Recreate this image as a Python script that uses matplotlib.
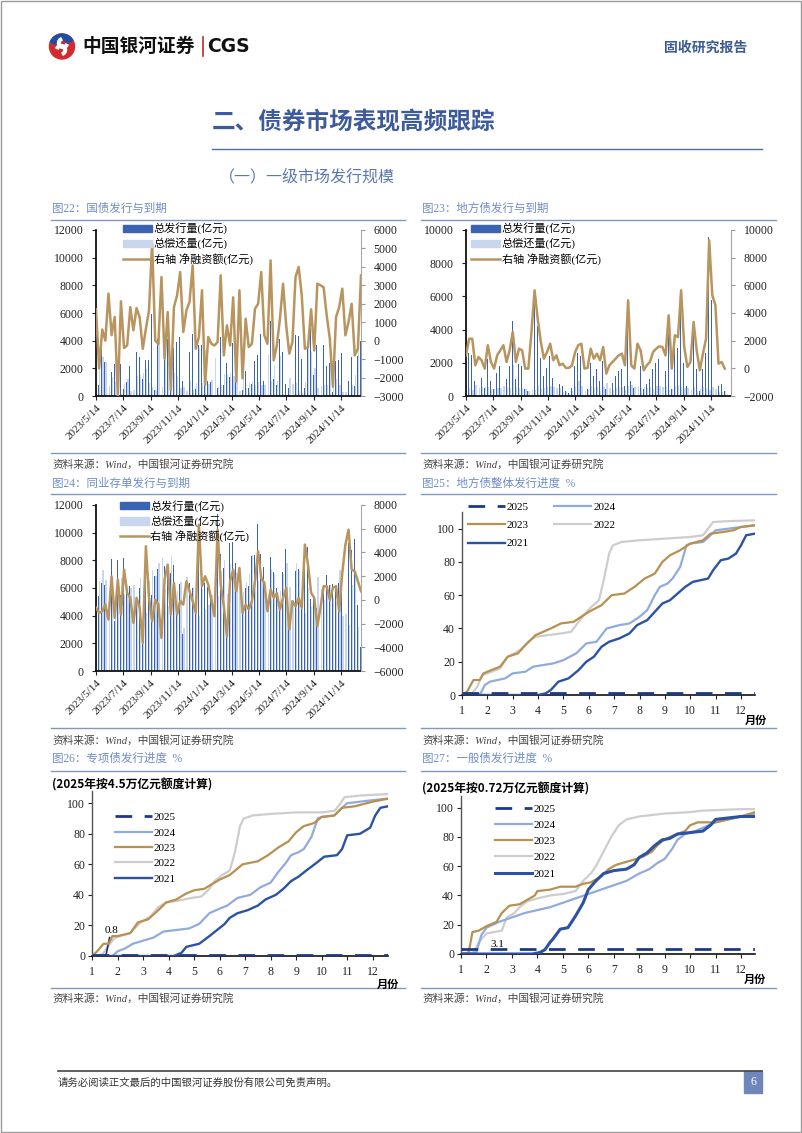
import numpy as np
import pandas as pd
import matplotlib
matplotlib.use('Agg')
import matplotlib.pyplot as plt
import matplotlib.dates as mdates
from matplotlib.patches import Rectangle, Patch, Wedge, Circle
from matplotlib.lines import Line2D
from matplotlib.ticker import FuncFormatter

plt.rcParams['font.family'] = ['Liberation Serif', 'Noto Sans CJK SC']
CJK = ['Noto Sans CJK SC', 'DejaVu Sans']

# ---------------- data ----------------
# weekly flows (亿元), first week 2023/5/14
week_start = '2023-05-14'
axis_end = '2024-12-29'

# 图22 国债
gz_issue = [2000, 800, 3400, 2450, 3300, 1700, 2300, 300, 2300, 500,
            1000, 2200, 1000, 3200, 2800, 1250, 2600, 2600, 5950, 400,
            4100, 4100, 2600, 4100, 500, 3500, 3900, 4300, 1100, 2000,
            3200, 4500, 500, 3700, 3700, 900, 1100, 1000, 2500, 600,
            4300, 800, 2400, 1400, 3800, 1000, 3100, 400, 1800, 600,
            900, 2500, 3000, 4500, 1100, 2900, 5400, 1200, 800, 4100,
            3200, 900, 600, 800, 4400, 4350, 2700, 600, 3700, 4900,
            1500, 3700, 3700, 3700, 2200, 2400, 300, 2500, 2600, 3100,
            600, 1100, 2800, 700, 2900, 4000]
gz_repay = [300, 2300, 2800, 2450, 750, 1400, 1020, 3300, 170, 900,
            1250, 380, 440, 1430, 1520, 1690, 1960, 960, 650, 400,
            4270, 650, 3580, 2550, 3200, 1680, 1450, 580, 630, 360,
            1100, 420, 940, 3500, 970, 3300, 900, 1170, 2760, 670,
            760, 1600, 1570, 1660, 1450, 3220, 370, 2440, 610, 950,
            1070, 770, 1000, 780, 810, 3070, 1050, 2270, 1060, 2910,
            110, 70, 1300, 870, 950, 350, 250, 1040, 4050, 3200,
            2030, 610, 700, 800, 830, 2300, 2800, 1220, 780, 280,
            310, 90, 800, 1500, 3340, 460]
gz_net = [1700, -1500, 600, 0, 2550, 300, 1280, -3000, 2130, -400,
          -250, 1820, 560, 1770, 1280, -440, 640, 1640, 5300, 0,
          -170, 3450, -980, 1550, -2700, 1820, 2450, 3720, 470, 1640,
          2100, 4080, -440, 200, 2730, -2400, 200, -170, -260, -70,
          3540, -800, 830, -260, 2350, -2220, 2730, -2040, 1190, -350,
          -170, 1730, 2000, 3720, 290, -170, 4350, -1070, -260, 1190,
          3090, 830, -700, -70, 3450, 4000, 2450, -440, -350, 1700,
          -530, 3090, 3000, 2900, 1370, 100, -2500, 1280, 1820, 2820,
          290, 1010, 2000, -800, -440, 3540]

# 图23 地方债
dfz_issue = [1500, 2600, 2500, 900, 1300, 1100, 500, 2200, 900, 400,
             1400, 1800, 2300, 1000, 1800, 4500, 1000, 1900, 1800, 400,
             300, 3000, 6000, 4200, 2300, 1200, 1700, 2400, 1100, 1400,
             700, 600, 300, 200, 500, 1800, 2600, 2400, 300, 400,
             2000, 1200, 1600, 900, 2100, 400, 700, 800, 1200, 1500,
             1600, 600, 5500, 900, 500, 2400, 1800, 400, 700, 1000,
             1600, 2000, 2200, 2100, 1500, 4200, 400, 3000, 2900, 6200,
             2000, 600, 900, 3900, 1600, 300, 1600, 2600, 9600, 5800,
             5000, 600, 700, 300]
dfz_repay = [560, 460, 360, 680, 480, 520, 520, 530, 440, 420,
             460, 500, 630, 540, 500, 1870, 540, 480, 500, 420,
             320, 370, 360, 610, 400, 500, 520, 620, 520, 460,
             480, 260, 270, 170, 280, 620, 930, 620, 320, 370,
             580, 500, 540, 320, 560, 780, 480, 340, 500, 560,
             540, 380, 580, 680, 520, 620, 500, 540, 480, 540,
             420, 580, 610, 560, 560, 370, 420, 610, 640, 560,
             460, 500, 440, 550, 300, 440, 540, 460, 350, 520,
             440, 260, 240, 320]
dfz_net = [940, 2140, 2140, 220, 820, 580, -20, 1670, 460, -20,
           940, 1300, 1670, 460, 1300, 2630, 460, 1420, 1300, -20,
           -20, 2630, 5640, 3590, 1900, 700, 1180, 1780, 580, 940,
           220, 340, 30, 30, 220, 1180, 1670, 1780, -20, 30,
           1420, 700, 1060, 580, 1540, -380, 220, 460, 700, 940,
           1060, 220, 4920, 220, -20, 1780, 1300, -140, 220, 460,
           1180, 1420, 1590, 1540, 940, 3830, -20, 2390, 2260, 5640,
           1540, 100, 460, 3350, 1300, -140, 1060, 2140, 9250, 5280,
           4560, 340, 460, -20]

# 图24 同业存单
cd_issue = [5630, 5400, 6340, 6200, 3640, 8090, 3580, 8010, 5460, 8150,
            5990, 6170, 4260, 5170, 6030, 2170, 8720, 6670, 5500, 6900,
            7400, 5000, 7610, 7670, 7060, 7630, 4560, 6300, 2700, 8370,
            6330, 6000, 5200, 10340, 7050, 6390, 6090, 5500, 5220, 11320,
            8490, 7460, 2530, 9270, 9350, 7830, 8890, 4600, 6000, 6180,
            8300, 8370, 10600, 8450, 7530, 4640, 8270, 7170, 5990, 4980,
            7170, 8810, 3600, 4900, 7260, 7370, 4630, 8860, 8970, 5190,
            5170, 4580, 5230, 6250, 6950, 6200, 6310, 6150, 6340, 6270,
            8760, 9220, 8750, 9510, 4770, 1730]
cd_repay = [6300, 6500, 7300, 6600, 5300, 6100, 5100, 6300, 6700, 5600,
            5400, 6000, 6200, 5000, 6700, 5800, 4200, 6500, 7300, 6900,
            7800, 8200, 5900, 4700, 8300, 6200, 5800, 6400, 3100, 6800,
            5600, 6100, 6300, 4000, 5900, 4400, 4800, 5500, 6600, 5400,
            7200, 8000, 5600, 7700, 6800, 7100, 6200, 5700, 6400, 7000,
            8400, 6800, 6500, 6600, 6100, 5600, 7400, 7000, 5400, 5800,
            7000, 7800, 6100, 5000, 7800, 7200, 5300, 4200, 6000, 4600,
            5000, 6800, 5900, 5100, 5800, 6200, 5300, 5000, 7300, 4000,
            4100, 3300, 6200, 7100, 3200, 1000]
cd_net = [-670, -1100, -960, -400, -1660, 1990, -1520, 1710, -1240, 2550,
          590, 170, -1940, 170, -670, -3630, 4520, 170, -1800, 0,
          -400, -3200, 1710, 2970, -1240, 1430, -1240, -100, -400, 1570,
          730, -100, -1100, 6340, 1150, 1990, 1290, 0, -1380, 5920,
          1290, -540, -3070, 1570, 2550, 730, 2690, -1100, -400, -820,
          -100, 1570, 4100, 1850, 1430, -960, 870, 170, 590, -820,
          170, 1010, -2500, -100, -540, 170, -670, 4660, 2970, 590,
          170, -2220, -670, 1150, 1150, 0, 1010, 1150, -960, 2270,
          4660, 5920, 2550, 2410, 1570, 730]

# 图25 地方债整体发行进度 (month, %)
t25_m = [1, 12.55]
t25_v = [1.0, 1.0]
t24_m = [1, 1.7, 1.9, 2.1, 2.7, 3.0, 3.5, 3.8, 4.2, 4.6, 5.0, 5.5, 5.9, 6.3, 6.7, 7.2,
         7.6, 8.0, 8.3, 8.6, 8.8, 9.1, 9.3, 9.6, 9.85, 10.0, 10.5, 10.8, 11.0, 11.5, 12.0, 12.55]
t24_v = [0, 0, 6, 8, 10, 13, 14, 17, 18, 19, 21, 25, 31, 32, 40, 42,
         43, 47, 51, 60, 65, 67, 70, 77, 90, 91, 92, 96, 99, 100, 101, 102]
t23_m = [1, 1.2, 1.45, 1.7, 1.85, 2.0, 2.5, 2.8, 3.2, 3.5, 3.9, 4.2, 4.5, 4.9, 5.4, 5.8, 6.0,
         6.5, 6.9, 7.4, 7.8, 8.2, 8.6, 8.9, 9.2, 9.6, 10.0, 10.5, 10.8, 11.3, 11.7, 12.0, 12.55]
t23_v = [0, 2, 9, 9, 13, 14, 17, 23, 25, 30, 36, 38, 40, 43, 44, 48, 50,
         54, 60, 61, 65, 70, 73, 80, 84, 87, 91, 93, 97, 98, 99, 101, 102]
t22_m = [1, 1.4, 1.6, 1.8, 2.0, 2.5, 2.8, 3.3, 3.6, 3.9, 4.4, 4.9, 5.3, 5.6, 5.8,
         6.1, 6.4, 6.6, 6.8, 6.95, 7.3, 8.0, 9.0, 10.0, 10.5, 10.7, 10.9, 11.5, 12.55]
t22_v = [0, 1, 5, 12, 13, 16, 23, 27, 32, 35, 36, 37, 38, 44, 48,
         53, 57, 70, 85, 90, 92, 93, 94, 95, 96, 100, 104, 104.5, 105]
t21_m = [1, 4.0, 4.3, 4.5, 4.8, 5.2, 5.6, 5.9, 6.2, 6.5, 6.8, 7.2, 7.6, 7.9, 8.3,
         8.6, 8.9, 9.2, 9.5, 9.8, 10.1, 10.4, 10.7, 10.9, 11.2, 11.5, 11.8, 12.0, 12.2, 12.55]
t21_v = [0, 0, 1, 3, 8, 10, 15, 20, 23, 29, 32, 34, 37, 42, 45,
         50, 55, 57, 61, 65, 68, 69, 70, 75, 81, 82, 85, 90, 96, 97]

# 图26 专项债发行进度
s25_m = [1, 12.6]
s25_v = [0.8, 0.8]
s24_m = [1, 1.8, 2.0, 2.3, 2.6, 3.0, 3.4, 3.8, 4.3, 4.8, 5.2, 5.6, 6.0, 6.3, 6.7, 7.2,
         7.6, 8.0, 8.3, 8.6, 8.8, 9.1, 9.3, 9.6, 9.85, 10.0, 10.5, 10.8, 11.0, 11.5, 12.0, 12.6]
s24_v = [0, 0, 3, 5, 8, 10, 12, 16, 17, 18, 21, 28, 31, 33, 38, 40,
         45, 48, 55, 61, 66, 68, 70, 78, 90, 91, 92, 97, 100, 101, 102, 103]
s23_m = [1.0, 1.2, 1.45, 1.65, 1.8, 2.0, 2.5, 2.8, 3.2, 3.6, 3.9, 4.3, 4.7, 5.0, 5.4, 5.8,
         6.0, 6.4, 6.9, 7.5, 7.9, 8.3, 8.7, 9.0, 9.3, 9.7, 10.0, 10.5, 10.8, 11.3, 12.0, 12.6]
s23_v = [0, 3, 8, 8, 13, 13, 15, 22, 24, 30, 35, 37, 41, 43, 44, 48,
         50, 53, 60, 62, 66, 71, 75, 81, 85, 87, 91, 92, 97, 98, 101, 103]
s22_m = [1, 1.4, 1.7, 1.9, 2.1, 2.5, 2.9, 3.3, 3.6, 3.9, 4.3, 4.9, 5.3, 5.6, 5.8,
         6.1, 6.4, 6.6, 6.8, 6.95, 7.3, 8.0, 9.0, 10.0, 10.5, 10.7, 10.9, 11.5, 12.6]
s22_v = [0, 1, 8, 12, 13, 15, 22, 26, 32, 35, 36, 38, 39, 44, 49,
         53, 56, 68, 85, 90, 92, 93, 94, 94, 95, 99, 104, 105, 106]
s21_m = [1, 4.2, 4.5, 4.7, 5.2, 5.6, 5.9, 6.2, 6.4, 6.7, 7.1, 7.5, 7.8, 8.2,
         8.5, 8.8, 9.1, 9.4, 9.8, 10.1, 10.6, 10.8, 11.0, 11.5, 11.9, 12.1, 12.3, 12.6]
s21_v = [0, 0, 2, 6, 8, 13, 17, 21, 25, 28, 30, 33, 37, 40,
         44, 49, 52, 56, 61, 65, 66, 70, 79, 80, 84, 92, 97, 98]

# 图27 一般债发行进度
g25_m = [1, 12.55]
g25_v = [3.1, 3.1]
g24_m = [1, 1.6, 1.8, 2.0, 2.5, 3.0, 3.5, 4.0, 4.5, 5.0, 5.5, 6.0, 6.5, 7.0,
         7.5, 8.0, 8.4, 8.7, 9.0, 9.3, 9.5, 9.8, 10.2, 10.6, 11.0, 11.5, 12.0, 12.55]
g24_v = [0, 1, 13, 18, 22, 25, 28, 30, 32, 35, 38, 41, 44, 47,
         50, 55, 58, 62, 65, 72, 78, 82, 84, 87, 90, 92, 94, 96]
g23_m = [1, 1.3, 1.45, 1.7, 2.0, 2.4, 2.6, 2.9, 3.3, 3.6, 3.9, 4.0, 4.5, 4.9, 5.5, 5.8, 6.1, 6.5,
         6.8, 7.1, 7.5, 7.9, 8.2, 8.5, 8.7, 8.9, 9.2, 9.5, 9.8, 10.0, 10.3, 11.0, 11.5, 12.0, 12.55]
g23_v = [0, 1, 15, 16, 19, 22, 28, 33, 34, 37, 40, 43, 44, 46, 46, 48, 49, 53,
         58, 61, 63, 65, 67, 70, 74, 77, 80, 82, 84, 88, 90, 90, 92, 94, 97]
g22_m = [1, 1.5, 1.7, 2.0, 2.3, 2.6, 2.8, 3.1, 3.3, 3.6, 4.0, 4.5, 5.0, 5.5,
         5.8, 6.1, 6.3, 6.6, 6.9, 7.2, 7.5, 8.0, 8.5, 9.0, 10.0, 10.5, 12.0, 12.55]
g22_v = [0, 1, 8, 14, 15, 16, 25, 28, 32, 36, 38, 40, 41, 43,
         50, 55, 60, 70, 80, 88, 92, 94, 95, 96, 97, 98, 99, 99]
g21_m = [1, 3.8, 4.1, 4.3, 4.5, 4.6, 4.9, 5.2, 5.5, 5.8, 6.0, 6.3, 6.6, 7.0, 7.5,
         7.8, 8.0, 8.3, 8.6, 8.9, 9.2, 9.5, 10.0, 10.5, 10.8, 11.0, 11.5, 12.0, 12.55]
g21_v = [0, 0, 1, 3, 8, 10, 17, 18, 26, 35, 44, 50, 55, 57, 58,
         61, 66, 69, 74, 78, 79, 82, 83, 84, 88, 92, 93, 94, 94]

year_labels = ['2025', '2024', '2023', '2022', '2021']

# ---------------- styles ----------------
DARK = '#3a63b2'
LIGHT = '#c8d6ee'
GOLD = '#b8955e'
C25 = '#1d3a8a'
C24 = '#90abdc'
C23 = '#b8904f'
C22 = '#cdcdcd'
C21 = '#2b52a3'
TITLE_C = '#6e8dc8'
RULE_C = '#8296c4'

W, H = 802, 1133
fig = plt.figure(figsize=(W / 100, H / 100), dpi=100)


def px_axes(x0, y0, x1, y1):
    return fig.add_axes([x0 / W, 1 - y1 / H, (x1 - x0) / W, (y1 - y0) / H])


def ftext(x, y, s, **kw):
    fig.text(x / W, 1 - y / H, s, **kw)


def hline(x0, x1, y, color, lw):
    fig.add_artist(Line2D([x0 / W, x1 / W], [1 - y / H, 1 - y / H], color=color, lw=lw))


# page frame
fig.add_artist(Rectangle((0.001, 0.001), 0.998, 0.998, transform=fig.transFigure,
                         fill=False, ec='#9a9a9a', lw=1))

# header logo
axl = px_axes(46, 33, 78, 60)
axl.set_xlim(0, 32)
axl.set_ylim(27, 0)
axl.set_aspect('equal')
axl.axis('off')
axl.add_patch(Circle((16, 13.5), 12.5, color='#d42a2f'))
axl.add_patch(Wedge((16, 13.5), 12.5, 200, 330, width=6, color='#1f4ea3'))
axl.add_patch(Wedge((17, 10), 5.5, 20, 250, width=2.6, color='white'))
axl.add_patch(Wedge((15, 17), 5.5, 200, 430, width=2.6, color='white'))
ftext(82, 46, '中国银河证券', family=CJK, fontsize=13.5, weight='bold', color='#111', va='center')
fig.add_artist(Line2D([203 / W, 203 / W], [1 - 37 / H, 1 - 56 / H], color='#c0282d', lw=1.2))
ftext(207, 46, 'CGS', family=['DejaVu Sans'], fontsize=13.5, weight='bold', color='#111', va='center')
ftext(747, 48, '固收研究报告', family=CJK, fontsize=10, weight='bold', color='#3d5a96',
      va='center', ha='right')

ftext(212, 122, '二、债券市场表现高频跟踪', family=CJK, fontsize=17, weight='bold',
      color='#3d5b9b', va='center')
hline(212, 762, 149, '#4f6ea8', 1.0)
ftext(219, 177, '（一）一级市场发行规模', family=CJK, fontsize=11.5, color='#5a77b3', va='center')

# chart titles / rules / sources
titles = [(52, 209, '图22：国债发行与到期'), (422, 209, '图23：地方债发行与到期'),
          (52, 484, '图24：同业存单发行与到期'), (422, 484, '图25：地方债整体发行进度  %'),
          (52, 759, '图26：专项债发行进度  %'), (422, 759, '图27：一般债发行进度  %')]
for x, y, s in titles:
    ftext(x, y, s, fontsize=8.3, color=TITLE_C, va='center')
for y in (220, 494, 771):
    hline(51, 405, y, RULE_C, 1.0)
    hline(421, 776, y, RULE_C, 1.0)
for y_line, y_txt in ((453, 464), (728, 740), (988, 998)):
    hline(51, 405, y_line, RULE_C, 1.0)
    hline(421, 776, y_line, RULE_C, 1.0)
    for x in (52, 422):
        ftext(x, y_txt, '资料来源：Wind，中国银河证券研究院', fontsize=7.7, style='italic',
              color='#444', va='center')

# footer
hline(58, 762, 1071, '#444', 1.2)
ftext(58, 1083, '请务必阅读正文最后的中国银河证券股份有限公司免责声明。', family=CJK,
      fontsize=7.5, color='#333', va='center')
fig.add_artist(Rectangle((744 / W, 1 - 1093 / H), 18 / W, 22 / H, transform=fig.transFigure,
                         color='#6f86bb'))
ftext(753, 1082, '6', fontsize=8.5, color='white', ha='center', va='center')


def date_fmt(v, pos):
    t = mdates.num2date(v)
    return f'{t.year}/{t.month}/{t.day}'


def flow_chart(box, issue, repay, net, lmax, rmin, rmax, rstep, leg_xy):
    ax = px_axes(*box)
    d = mdates.date2num(pd.date_range(week_start, periods=len(issue), freq='7D'))
    ax.bar(d + 1.6, repay, width=3.0, color=LIGHT, zorder=1)
    ax.bar(d - 1.0, issue, width=1.9, color=DARK, zorder=2)
    ax.set_ylim(0, lmax)
    ax.set_yticks(np.arange(0, lmax + 1, 2000))
    ax.set_xlim(mdates.date2num(pd.Timestamp(week_start)), mdates.date2num(pd.Timestamp(axis_end)))
    ax.xaxis.set_major_locator(mdates.MonthLocator(bymonth=[1, 3, 5, 7, 9, 11], bymonthday=14))
    ax.xaxis.set_major_formatter(FuncFormatter(date_fmt))
    ax.tick_params(axis='x', labelrotation=45, labelsize=8, length=3, pad=2, colors='#222')
    plt.setp(ax.get_xticklabels(), ha='right', rotation_mode='anchor')
    ax.tick_params(axis='y', labelsize=8.5, length=3, pad=6, colors='#222')
    for s in ('top', 'right'):
        ax.spines[s].set_visible(False)
    for s in ('left', 'bottom'):
        ax.spines[s].set_linewidth(1.3)
        ax.spines[s].set_color('#111')
    ax2 = ax.twinx()
    ax2.plot(d, net, color=GOLD, lw=1.8)
    ax2.set_ylim(rmin, rmax)
    ax2.set_yticks(np.arange(rmin, rmax + 1, rstep))
    ax2.tick_params(axis='y', labelsize=8.5, length=3, pad=6, colors='#222')
    ax2.tick_params(axis='y', color='#999')
    for s in ('top', 'left', 'bottom'):
        ax2.spines[s].set_visible(False)
    ax2.spines['right'].set_color('#a8a8a8')
    ax2.spines['right'].set_linewidth(0.8)
    handles = [Patch(color=DARK), Patch(color=LIGHT), Line2D([], [], color=GOLD, lw=1.8)]
    labels = ['总发行量(亿元)', '总偿还量(亿元)', '右轴 净融资额(亿元)']
    ax2.legend(handles, labels, loc='upper left', bbox_to_anchor=leg_xy, frameon=False,
               fontsize=8, handlelength=2.6, handleheight=0.65, handletextpad=0.15,
               labelspacing=0.3, borderpad=0, borderaxespad=0)


flow_chart((96, 230, 361, 396), gz_issue, gz_repay, gz_net, 12000, -3000, 6000, 1000, (0.102, 1.045))
flow_chart((466, 230, 731, 396), dfz_issue, dfz_repay, dfz_net, 10000, -2000, 10000, 2000, (0.02, 1.045))
flow_chart((96, 505, 361, 671), cd_issue, cd_repay, cd_net, 12000, -6000, 8000, 2000, (0.09, 1.03))


def progress_chart(box, curves, ymax, xmax, leg_xy, ncol, lspace):
    ax = px_axes(*box)
    lines = {}
    for m, v, color, lw, dash, lab, z in curves:
        ln, = ax.plot(m, v, color=color, lw=lw, zorder=z)
        if dash:
            ln.set_dashes((6, 4.5))
        lines[lab] = ln
    ax.set_xlim(1, xmax)
    ax.set_ylim(0, ymax)
    ax.set_xticks(range(1, 13))
    ax.set_yticks(range(0, 101, 20))
    ax.tick_params(axis='both', labelsize=8.5, length=3, colors='#222')
    ax.tick_params(axis='x', pad=4)
    ax.tick_params(axis='y', pad=2)
    for s in ('top', 'right'):
        ax.spines[s].set_visible(False)
    ax.spines['bottom'].set_color('#111')
    ax.spines['bottom'].set_linewidth(1.2)
    ax.spines['left'].set_color('#555')
    ax.spines['left'].set_linewidth(1.0)
    if ncol == 2:
        order = ['2025', '2023', '2021', '2024', '2022']
    else:
        order = year_labels
    ax.legend([lines[k] for k in order], order, loc='upper left', bbox_to_anchor=leg_xy,
              ncol=ncol, frameon=False, fontsize=8, handlelength=3.3, handletextpad=0.2,
              labelspacing=lspace, columnspacing=2.3, borderpad=0, borderaxespad=0)
    return ax


ax25 = progress_chart((462, 512, 755, 695),
                      [(t22_m, t22_v, C22, 1.6, False, '2022', 2),
                       (t24_m, t24_v, C24, 1.6, False, '2024', 3),
                       (t23_m, t23_v, C23, 1.6, False, '2023', 4),
                       (t21_m, t21_v, C21, 1.7, False, '2021', 5),
                       (t25_m, t25_v, C25, 2.0, True, '2025', 6)],
                      110, 12.55, (0.02, 1.052), 2, 0.75)
ftext(756, 720, '月份', family=CJK, fontsize=8, weight='bold', ha='center', va='center')

ax26 = progress_chart((92, 791, 388, 956),
                      [(s22_m, s22_v, C22, 1.6, False, '2022', 2),
                       (s24_m, s24_v, C24, 1.6, False, '2024', 3),
                       (s23_m, s23_v, C23, 1.6, False, '2023', 4),
                       (s21_m, s21_v, C21, 1.7, False, '2021', 5),
                       (s25_m, s25_v, C25, 2.0, True, '2025', 6)],
                      108, 12.6, (0.078, 0.87), 1, 0.5)
ax26.annotate('0.8', xy=(1.55, 0.8), xytext=(1.75, 14), fontsize=8, ha='center', va='bottom',
              arrowprops=dict(arrowstyle='-', color='#1d2f80', lw=1.2, shrinkA=0, shrinkB=0))
ftext(52, 785, '(2025年按4.5万亿元额度计算)', family=CJK, fontsize=8.5, weight='bold', va='center')
ftext(388, 984, '月份', family=CJK, fontsize=8, weight='bold', ha='center', va='center')

ax27 = progress_chart((461, 796, 755, 954),
                      [(g22_m, g22_v, C22, 1.6, False, '2022', 2),
                       (g24_m, g24_v, C24, 1.6, False, '2024', 3),
                       (g23_m, g23_v, C23, 1.6, False, '2023', 4),
                       (g21_m, g21_v, C21, 2.2, False, '2021', 5),
                       (g25_m, g25_v, C25, 2.0, True, '2025', 6)],
                      108, 12.55, (0.116, 0.95), 1, 0.58)
ax27.text(2.45, 3.6, '3.1', fontsize=8, ha='center', va='bottom')
ftext(422, 789, '(2025年按0.72万亿元额度计算)', family=CJK, fontsize=8.5, weight='bold', va='center')
ftext(755, 979, '月份', family=CJK, fontsize=8, weight='bold', ha='center', va='center')

fig.savefig('out.png', dpi=100)
